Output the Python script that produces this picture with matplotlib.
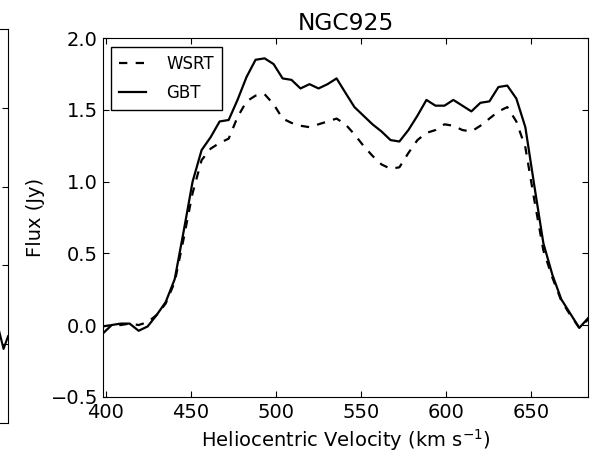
import matplotlib
matplotlib.use("Agg")
import matplotlib.pyplot as plt

# channel velocities (km/s) and fluxes (Jy)
velocity = [398.3, 403.6, 408.9, 414.1, 419.4, 424.7, 430.0, 435.3, 440.6, 445.8,
            451.1, 456.4, 461.7, 467.0, 472.3, 477.5, 482.8, 488.1, 493.4, 498.7,
            504.0, 509.2, 514.5, 519.8, 525.1, 530.4, 535.7, 540.9, 546.2, 551.5,
            556.8, 562.1, 567.4, 572.6, 577.9, 583.2, 588.5, 593.8, 599.1, 604.3,
            609.6, 614.9, 620.2, 625.5, 630.8, 636.0, 641.3, 646.6, 651.9, 657.2,
            662.5, 667.7, 673.0, 678.3, 683.6]

wsrt = [-0.01, 0.00, 0.00, 0.01, 0.00, 0.02, 0.07, 0.15, 0.30, 0.60,
        0.92, 1.15, 1.23, 1.27, 1.30, 1.45, 1.56, 1.60, 1.61, 1.54,
        1.44, 1.41, 1.39, 1.38, 1.40, 1.42, 1.44, 1.40, 1.33, 1.25,
        1.18, 1.12, 1.09, 1.10, 1.20, 1.29, 1.34, 1.36, 1.40, 1.39,
        1.36, 1.35, 1.39, 1.44, 1.49, 1.52, 1.42, 1.24, 0.87, 0.52,
        0.33, 0.17, 0.07, -0.02, 0.04]

gbt = [-0.06, 0.00, 0.01, 0.01, -0.04, -0.01, 0.07, 0.16, 0.32, 0.65,
       1.00, 1.22, 1.31, 1.42, 1.43, 1.57, 1.73, 1.85, 1.86, 1.82,
       1.72, 1.71, 1.65, 1.68, 1.65, 1.68, 1.72, 1.62, 1.52, 1.46,
       1.40, 1.35, 1.29, 1.28, 1.36, 1.46, 1.57, 1.53, 1.53, 1.57,
       1.53, 1.49, 1.55, 1.56, 1.66, 1.67, 1.58, 1.38, 0.97, 0.57,
       0.35, 0.18, 0.08, -0.02, 0.05]

# tail of the neighbouring panel that sticks in at the left edge
left_vel = [673.0, 679.0, 683.6]
left_flux = [0.12, -0.03, 0.05]

plt.rcParams['font.family'] = ['DejaVu Sans']
plt.rcParams['font.size'] = 14
plt.rcParams['xtick.direction'] = 'in'
plt.rcParams['ytick.direction'] = 'in'
plt.rcParams['xtick.top'] = True
plt.rcParams['ytick.right'] = True
plt.rcParams['xtick.major.size'] = 4
plt.rcParams['ytick.major.size'] = 4
plt.rcParams['xtick.major.pad'] = 4.5
plt.rcParams['lines.scale_dashes'] = False

fig = plt.figure(figsize=(5.93, 4.59), dpi=100)

axl = fig.add_axes([-0.45, 0.0784, 0.4635, 0.8584])
axl.plot(left_vel, left_flux, 'k-', lw=1.5)
axl.set_xlim(400, 683.6)
axl.set_ylim(-0.5, 2.0)
axl.set_yticks([0.0, 0.5, 1.0, 1.5])
axl.tick_params(labelleft=False, labelbottom=False)

ax = fig.add_axes([0.1732, 0.1357, 0.8189, 0.7809])
ax.plot(velocity, wsrt, 'k--', lw=1.6, dashes=(6, 6), label='WSRT')
ax.plot(velocity, gbt, 'k-', lw=1.6, label='GBT')
ax.set_xlim(velocity[0], velocity[-1])
ax.set_ylim(-0.5, 2.0)
ax.set_xticks([400, 450, 500, 550, 600, 650])
ax.set_yticks([-0.5, 0.0, 0.5, 1.0, 1.5, 2.0])
ax.set_xlabel('Heliocentric Velocity (km s$^{-1}$)')
ax.set_ylabel('Flux (Jy)')
ax.set_title('NGC925', fontsize=16.8)

leg = ax.legend(loc='upper left', fontsize=12, fancybox=False, framealpha=1,
                handlelength=1.6, handletextpad=1.2, borderpad=0.5,
                labelspacing=0.65)
leg.get_frame().set_edgecolor('black')

fig.savefig('out.png', dpi=100)
